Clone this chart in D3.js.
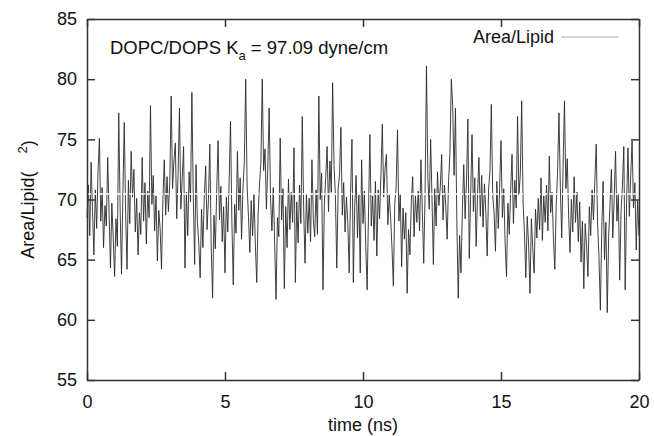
<!DOCTYPE html>
<html>
<head>
<meta charset="utf-8">
<script src="https://cdn.jsdelivr.net/npm/d3@7"></script>
<style>
  body { margin: 0; background: #fff; }
  svg text { font-family: 'Liberation Sans', Arial, sans-serif; fill: #111; }
</style>
</head>
<body>
<div id="chart-area"></div>
<script>
// DATA
// =================
var tStart = 0, tStep = 0.05;   // ns
var xTicks = [0, 5, 10, 15, 20];
var yTicks = [55, 60, 65, 70, 75, 80, 85];
var meanArea = 70.45;
var seriesName = 'Area/Lipid';
var areaPerLipid = [
  68.5, 71.2, 67.0, 73.1, 69.0, 65.4, 70.8, 67.6, 72.4, 75.1, 68.2, 71.0, 66.0, 69.5, 67.8, 73.5, 68.9, 64.3, 69.7, 66.8,
  63.6, 68.4, 66.1, 77.2, 69.3, 63.8, 70.5, 76.4, 68.8, 64.2, 71.6, 68.0, 74.0, 70.2, 72.5, 67.3, 70.1, 65.4, 68.9, 67.1,
  73.5, 68.2, 71.4, 66.3, 70.7, 68.5, 77.8, 69.6, 72.0, 67.4, 70.3, 64.9, 69.1, 67.6, 64.2, 70.0, 73.3, 68.7, 71.9, 69.0,
  71.5, 78.6, 70.9, 73.2, 74.7, 68.4, 72.1, 77.6, 69.2, 71.8, 74.4, 64.3, 70.6, 67.0, 72.3, 69.8, 78.9, 70.4, 64.6, 72.9,
  68.1, 66.4, 63.5, 69.2, 66.0, 70.3, 72.8, 67.5, 70.0, 74.6, 66.2, 61.8, 68.7, 65.9, 70.8, 74.9, 68.3, 71.1, 66.5, 69.4,
  63.9, 70.2, 67.3, 71.5, 76.5, 68.0, 62.9, 69.6, 67.2, 74.0, 69.1, 71.8, 66.7, 70.9, 73.1, 80.0, 71.2, 68.6, 65.6, 69.9,
  67.0, 70.4, 66.2, 63.1, 68.8, 71.3, 73.0, 80.0, 72.4, 74.2, 69.2, 72.6, 77.6, 70.1, 67.4, 71.0, 66.3, 61.7, 68.5, 66.9,
  75.1, 68.3, 70.9, 62.6, 69.4, 66.0, 71.7, 67.5, 70.6, 68.1, 74.3, 63.1, 69.8, 66.4, 71.2, 68.0, 76.9, 69.3, 64.7, 70.5,
  67.2, 70.1, 66.5, 73.3, 68.4, 66.9, 70.8, 67.1, 78.6, 70.0, 72.2, 62.5, 69.7, 71.9, 74.4, 69.0, 73.2, 70.6, 79.7, 72.8,
  70.3, 64.3, 70.9, 72.1, 76.0, 68.7, 71.4, 67.3, 70.2, 68.0, 63.9, 70.6, 75.0, 63.1, 69.5, 72.0, 66.8, 70.4, 63.9, 73.3,
  68.0, 70.7, 66.1, 62.5, 69.0, 75.4, 67.8, 70.3, 66.6, 71.5, 65.3, 70.8, 68.4, 72.1, 76.25, 70.2, 72.6, 73.75, 67.9, 70.4,
  68.5, 66.0, 62.8, 69.6, 71.0, 75.8, 68.2, 70.5, 64.4, 69.3, 66.7, 68.9, 62.2, 67.5, 65.4, 69.8, 71.9, 66.9, 70.3, 68.1,
  70.7, 67.4, 73.3, 69.0, 64.7, 70.6, 81.1, 71.8, 69.2, 75.0, 70.1, 64.6, 70.9, 67.8, 72.3, 69.5, 71.0, 73.75, 68.3, 71.2,
  69.4, 66.7, 71.5, 73.9, 80.0, 77.8, 72.0, 77.6, 68.2, 61.8, 67.0, 63.9, 69.1, 72.9, 68.4, 71.6, 76.7, 65.1, 70.2, 75.4,
  69.0, 71.8, 66.1, 70.4, 73.5, 68.6, 72.0, 67.7, 71.3, 69.0, 65.3, 70.8, 72.4, 77.9, 70.3, 68.9, 65.7, 71.5, 67.6, 70.9,
  74.9, 68.5, 70.9, 66.4, 63.6, 69.7, 67.1, 70.8, 73.75, 68.0, 71.6, 69.3, 76.9, 70.4, 72.1, 78.2, 69.7, 67.2, 63.5, 68.6,
  66.3, 62.2, 68.4, 66.0, 63.9, 69.2, 66.8, 70.1, 67.5, 71.8, 66.6, 70.3, 68.1, 71.2, 67.4, 73.6, 68.9, 70.6, 66.7, 64.2,
  69.5, 72.3, 77.2, 71.0, 66.8, 72.8, 78.2, 70.9, 73.4, 68.7, 65.6, 70.0, 67.3, 71.9, 68.1, 70.6, 66.5, 69.8, 64.8, 68.2,
  62.6, 68.0, 66.2, 63.6, 69.4, 67.0, 70.8, 68.3, 71.5, 74.6, 67.9, 65.2, 60.8, 67.4, 71.5, 65.0, 68.1, 60.6, 66.9, 69.6,
  72.5, 66.8, 70.1, 74.0, 68.2, 70.5, 63.3, 69.0, 71.2, 74.4, 62.5, 69.7, 74.3, 68.6, 72.0, 74.9, 69.3, 71.4, 65.8, 69.9,
  67.0
];

// CANVAS + MARGINS
// =================
var margin, width, height, svg, g;

margin = { left: 87, right: 15, top: 19, bottom: 56 };
width = 654 - margin.left - margin.right;
height = 436 - margin.top - margin.bottom;

svg = d3.select('#chart-area')
    .append('svg')
        .attr('width', 654)
        .attr('height', 436);

g = svg.append('g')
    .attr('transform', 'translate(' + margin.left + ',' + margin.top + ')');

// SCALES
var x = d3.scaleLinear().domain([0, 20]).range([0, width]);
var y = d3.scaleLinear().domain([55, 85]).range([height, 0]);

// DATA LINE
var line = d3.line()
    .x(function (d, i) { return x(tStart + i * tStep); })
    .y(function (d) { return y(d); });

g.append('path')
    .datum(areaPerLipid)
    .attr('fill', 'none')
    .attr('stroke', '#2a2a2a')
    .attr('stroke-width', 0.9)
    .attr('d', line);

// mean line (white dashed)
g.append('line')
    .attr('x1', x(0)).attr('x2', x(20))
    .attr('y1', y(meanArea)).attr('y2', y(meanArea))
    .attr('stroke', '#fff')
    .attr('stroke-width', 1.5)
    .attr('stroke-dasharray', '4,2');

// AXES (gnuplot style: inward ticks on all sides)
var tickLen = 8;
g.append('g')
    .attr('class', 'x axis')
    .attr('transform', 'translate(0,' + height + ')')
    .call(d3.axisBottom(x).tickValues(xTicks).tickSizeInner(-tickLen).tickSizeOuter(0).tickPadding(15));
g.append('g')
    .attr('class', 'x axis top')
    .call(d3.axisTop(x).tickValues(xTicks).tickSizeInner(-tickLen).tickSizeOuter(0).tickFormat(''));
g.append('g')
    .attr('class', 'y axis')
    .call(d3.axisLeft(y).tickValues(yTicks).tickSizeInner(-tickLen).tickSizeOuter(0).tickPadding(10));
g.append('g')
    .attr('class', 'y axis right')
    .attr('transform', 'translate(' + width + ',0)')
    .call(d3.axisRight(y).tickValues(yTicks).tickSizeInner(-tickLen).tickSizeOuter(0).tickFormat(''));

g.selectAll('.axis path').attr('stroke', '#333').attr('stroke-width', 1.5);
g.selectAll('.axis line').attr('stroke', '#333').attr('stroke-width', 1.5);
g.selectAll('.axis text')
    .attr('font-size', '18px')
    .attr('font-family', "'Liberation Sans', Arial, sans-serif")
    .attr('fill', '#111');

// LABELS
// =================
g.append('text')
    .attr('x', width / 2)
    .attr('y', height + 51)
    .attr('font-size', '18px')
    .attr('text-anchor', 'middle')
    .text('time (ns)');

var yl = g.append('text')
    .attr('x', -(height / 2))
    .attr('y', -53)
    .attr('font-size', '18px')
    .attr('text-anchor', 'middle')
    .attr('transform', 'rotate(-90)');
yl.append('tspan').text('Area/Lipid(\u2002\u2002');
yl.append('tspan').attr('dy', -7).attr('font-size', '13px').text('2');
yl.append('tspan').attr('dy', 7).text(')');

// annotation
var ann = g.append('text')
    .attr('x', 23)
    .attr('y', 35)
    .attr('font-size', '18.5px');
ann.append('tspan').text('DOPC/DOPS K');
ann.append('tspan').attr('dy', 6).attr('font-size', '13px').text('a');
ann.append('tspan').attr('dy', -6).text(' = 97.09 dyne/cm');

// LEGEND
g.append('text')
    .attr('x', 467)
    .attr('y', 24)
    .attr('font-size', '18px')
    .attr('text-anchor', 'end')
    .text(seriesName);
g.append('line')
    .attr('x1', 474).attr('x2', 531)
    .attr('y1', 18).attr('y2', 18)
    .attr('stroke', '#aaa')
    .attr('stroke-width', 1);
</script>
</body>
</html>
